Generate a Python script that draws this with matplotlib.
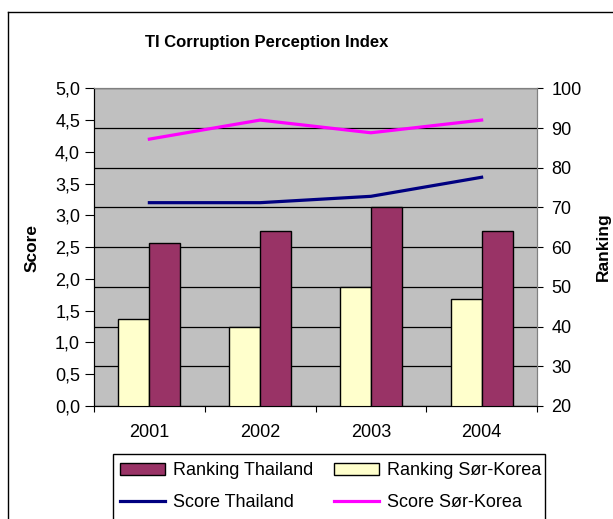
import numpy as np
import matplotlib
matplotlib.use("Agg")
import matplotlib.pyplot as plt
from matplotlib.patches import Rectangle
from matplotlib.lines import Line2D

plt.rcParams['font.family'] = ['Liberation Sans', 'DejaVu Sans']

# data
years = ['2001', '2002', '2003', '2004']
rank_thailand = [61, 64, 70, 64]
rank_korea = [42, 40, 50, 47]
score_thailand = [3.2, 3.2, 3.3, 3.6]
score_korea = [4.2, 4.5, 4.3, 4.5]

score_ticks = np.arange(0, 5.01, 0.5)
rank_ticks = np.arange(20, 101, 10)

W, H = 613, 519
fig = plt.figure(figsize=(W / 100, H / 100), dpi=100)

def fx(px):
    return px / W

def fy(py):
    return 1 - py / H

# plot area (pixels: 94..537 x, 88..406 y)
ax = fig.add_axes([fx(94), fy(406), fx(537 - 94), (406 - 88.3) / H])
axr = ax.twinx()

# bars on the ranking axis, behind the score lines
axr.set_zorder(1)
ax.set_zorder(2)
ax.patch.set_visible(False)
axr.patch.set_visible(True)
axr.patch.set_facecolor('#C0C0C0')

x = np.arange(len(years))
bw = 0.28
axr.bar(x - bw / 2, rank_korea, bw, color='#FFFFCC', edgecolor='black', linewidth=1, zorder=3)
axr.bar(x + bw / 2, rank_thailand, bw, color='#993366', edgecolor='black', linewidth=1, zorder=3)
axr.set_ylim(20, 100)
axr.set_yticks(rank_ticks)
axr.set_yticklabels([str(v) for v in rank_ticks], fontsize=13)
axr.grid(axis='y', color='black', linewidth=0.9, zorder=0)
axr.set_axisbelow(True)
axr.tick_params(axis='y', direction='out', length=4.5, pad=6)

ax.plot(x, score_thailand, color='#000080', linewidth=2.3, zorder=4)
ax.plot(x, score_korea, color='#FF00FF', linewidth=2.3, zorder=4)
ax.set_ylim(0, 5)
ax.set_yticks(score_ticks)
ax.set_yticklabels([f'{v:.1f}'.replace('.', ',') for v in score_ticks], fontsize=13)
ax.tick_params(axis='y', direction='out', length=6.5, pad=3.5)

ax.set_xlim(-0.5, 3.5)
ax.set_xticks(np.arange(-0.5, 3.6, 1))
ax.set_xticklabels([])
ax.tick_params(axis='x', direction='out', length=4)
ax.set_xticks(x, minor=True)
ax.set_xticklabels(years, minor=True, fontsize=13)
ax.tick_params(axis='x', which='minor', length=0, pad=13)

for a in (ax, axr):
    a.spines['top'].set_color('#808080')
    a.spines['right'].set_color('#808080')
    a.spines['left'].set_color('black')
    a.spines['bottom'].set_color('black')

fig.text(fx(267), fy(42), 'TI Corruption Perception Index', fontsize=12,
         fontweight='bold', ha='center', va='center')
fig.text(fx(32), fy(248), 'Score', fontsize=12.5, fontweight='bold',
         rotation=90, ha='center', va='center')
fig.text(fx(603), fy(247), 'Ranking', fontsize=12.5, fontweight='bold',
         rotation=90, ha='center', va='center')

# outer chart border (right and bottom edges fall outside the image)
fig.add_artist(Line2D([fx(8), fx(8)], [fy(12), 0], transform=fig.transFigure, color='black', linewidth=1))
fig.add_artist(Line2D([fx(8), 1], [fy(12), fy(12)], transform=fig.transFigure, color='black', linewidth=1))

# legend box, its bottom runs past the image
fig.add_artist(Rectangle((fx(113), fy(540)), fx(545 - 113), (540 - 454) / H,
                         transform=fig.transFigure, facecolor='white', edgecolor='black', linewidth=1))
handles = [
    Rectangle((0, 0), 1, 1, facecolor='#993366', edgecolor='black'),
    Line2D([], [], color='#000080', linewidth=2.3),
    Rectangle((0, 0), 1, 1, facecolor='#FFFFCC', edgecolor='black'),
    Line2D([], [], color='#FF00FF', linewidth=2.3),
]
labels = ['Ranking Thailand', 'Score Thailand', 'Ranking Sør-Korea', 'Score Sør-Korea']
leg = fig.legend(handles, labels, ncol=2, loc='upper left', bbox_to_anchor=(fx(113), fy(455)),
                 frameon=False, fontsize=13, handlelength=2.5, handleheight=0.6,
                 handletextpad=0.45, columnspacing=1.1, labelspacing=0.8, borderaxespad=0)

fig.savefig('out.png', dpi=100, facecolor='white')
